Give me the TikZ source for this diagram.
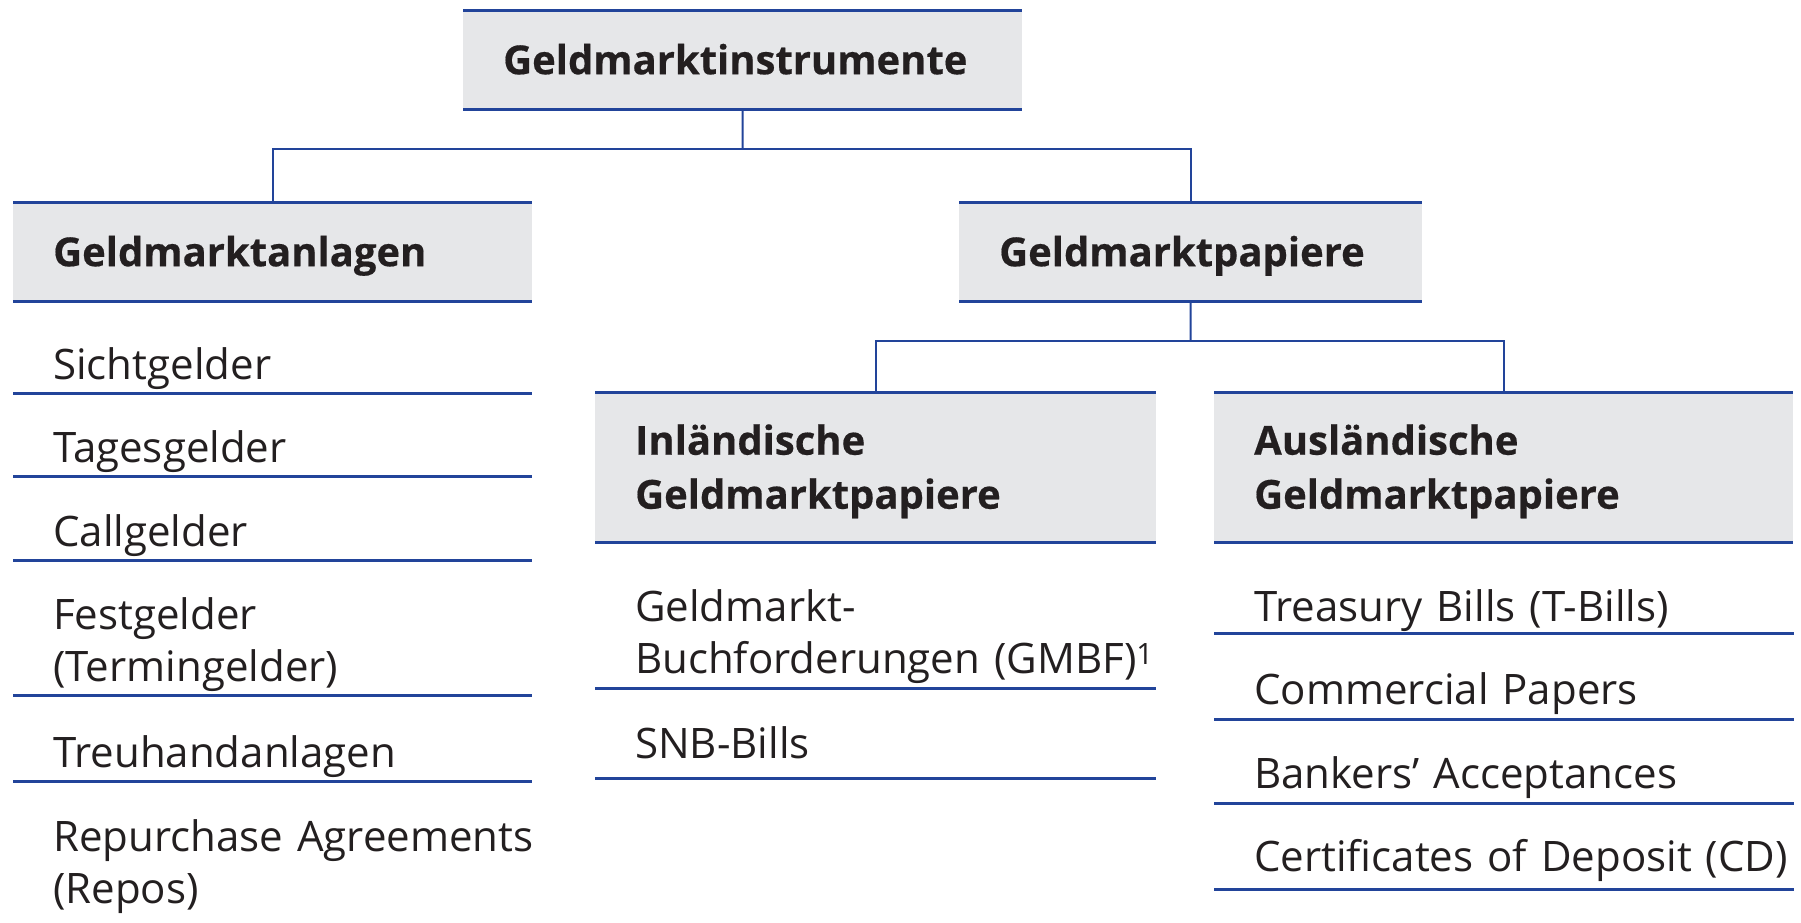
\documentclass[tikz,border=0pt]{standalone}
\usepackage{fontspec}
\setmainfont{Open Sans}[BoldFeatures={FakeBold=0.4}]
\definecolor{lineblue}{RGB}{34,68,154}
\definecolor{boxgray}{RGB}{230,231,233}
\definecolor{txt}{RGB}{35,31,32}
\newcommand{\mytwo}[2]{\begin{tabular}[b]{@{}l@{}}#1\\#2\end{tabular}}
\tikzset{
  hdr/.style={fill=boxgray, anchor=north west, inner xsep=40pt, inner ysep=0pt,
    align=left, text=txt, text height=37pt, text depth=8pt,
    font=\fontsize{40}{54}\selectfont\bfseries},
  item/.style={anchor=south west, inner xsep=40pt, inner ysep=0pt, align=left,
    text depth=13pt, text=txt, font=\fontsize{42}{52}\selectfont},
  rule/.style={draw=lineblue, line width=3pt},
  conn/.style={draw=lineblue, line width=2pt},
}
\begin{document}
\begin{tikzpicture}[x=1pt,y=-1pt]
\useasboundingbox (0,0) rectangle (1801,922);
% headers
\node[hdr, minimum width=559pt, minimum height=99pt, text width=479pt] (top) at (463,10) {Geldmarktinstrumente};
\node[hdr, minimum width=519pt, minimum height=99pt, text width=439pt] (anl) at (13,202) {Geldmarktanlagen};
\node[hdr, minimum width=463pt, minimum height=99pt, text width=383pt] (pap) at (959,202) {Geldmarktpapiere};
\node[hdr, minimum width=561pt, minimum height=150pt, text width=481pt, text depth=62pt] (inl) at (595,392) {Inländische\\Geldmarktpapiere};
\node[hdr, minimum width=579pt, minimum height=150pt, text width=499pt, text depth=62pt] (aus) at (1214,392) {Ausländische\\Geldmarktpapiere};
\foreach \n in {top,anl,pap,inl,aus}{
  \draw[rule] (\n.north west) -- (\n.north east);
  \draw[rule] (\n.south west) -- (\n.south east);
}
% connectors
\coordinate (b1) at (742.5,149);
\coordinate (b2) at (1190.5,341);
\draw[conn] (top.south) -- (b1);
\draw[conn] (anl.north) |- (b1) -| (pap.north);
\draw[conn] (pap.south) -- (b2);
\draw[conn] (inl.north) |- (b2) -| (aus.north);
% left list
\node[item, text width=439pt] (l1) at (13,393) {Sichtgelder};
\node[item, text width=439pt] (l2) at (13,476) {Tagesgelder};
\node[item, text width=439pt] (l3) at (13,560) {Callgelder};
\node[item, text width=439pt] (l4) at (13,695) {\mytwo{Festgelder}{(Termingelder)}};
\node[item, text width=439pt] (l5) at (13,781) {Treuhandanlagen};
\node[item, text width=439pt] (l6) at (13,917) {\mytwo{Repurchase Agreements}{(Repos)}};
\foreach \n in {l1,l2,l3,l4,l5}{
  \draw[rule] (\n.south west) -- (\n.south east);
}
% middle list
\node[item, text width=481pt, text depth=14pt] (m1) at (595,688) {\mytwo{Geldmarkt-}{Buchforderungen (GMBF)\textsuperscript{1}}};
\node[item, text width=481pt, text depth=19pt] (m2) at (595,778) {SNB-Bills};
\foreach \n in {m1,m2}{
  \draw[rule] (\n.south west) -- (\n.south east);
}
% right list
\node[item, text width=500pt, text depth=11pt] (r1) at (1214,633) {\mbox{Treasury Bills (T-Bills)}};
\node[item, text width=500pt, text depth=14pt] (r2) at (1214,719) {\mbox{Commercial Papers}};
\node[item, text width=500pt, text depth=14pt] (r3) at (1214,803) {\mbox{Bankers’ Acceptances}};
\node[item, text width=500pt, text depth=17pt] (r4) at (1214,889) {\mbox{Certificates of Deposit (CD)}};
\foreach \n in {r1,r2,r3,r4}{
  \draw[rule] (\n.south west) -- (\n.south east);
}
\end{tikzpicture}
\end{document}
